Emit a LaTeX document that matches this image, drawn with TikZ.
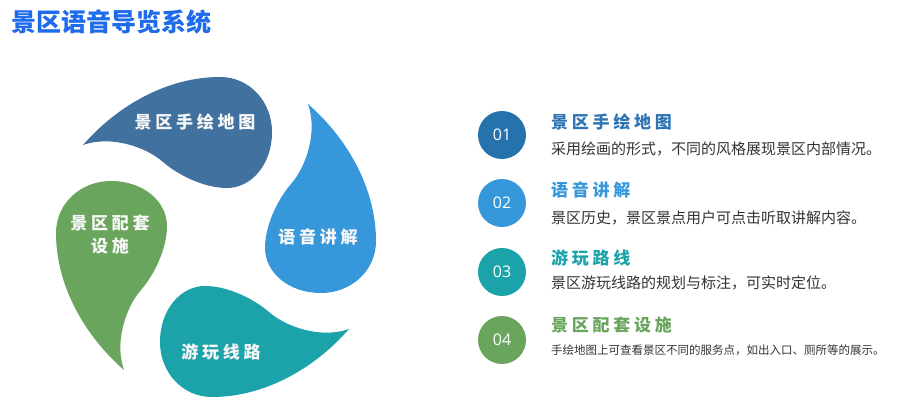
\documentclass[tikz,border=0pt]{standalone}
\usepackage{fontspec}
\setmainfont{Open Sans}
\newfontfamily\cjk{Noto Sans CJK SC}
\newfontfamily\cjkwide[LetterSpace=22]{Noto Sans CJK SC}

\definecolor{titleblue}{HTML}{1E6BEB}
\definecolor{mapblue}{HTML}{41719F}
\definecolor{voiceblue}{HTML}{3698DA}
\definecolor{routeteal}{HTML}{1CA3AA}
\definecolor{sitegreen}{HTML}{6AA55E}
\definecolor{numblue}{HTML}{2572AD}
\definecolor{headblue}{HTML}{2E74B5}
\definecolor{desctext}{HTML}{333333}

\tikzset{
  droplabel/.style={text=white!94!gray, align=center,
    font=\cjkwide\bfseries\fontsize{17}{23}\selectfont},
  numdot/.style={circle, minimum size=48pt, inner sep=0pt, text=white,
    font=\fontsize{16}{16}\selectfont},
  headline/.style={anchor=west, inner sep=0pt,
    font=\cjkwide\bfseries\fontsize{17}{17}\selectfont},
  descline/.style={anchor=west, inner sep=0pt, text=desctext,
    font=\cjk\fontsize{15}{15}\selectfont}
}

\begin{document}
\begin{tikzpicture}[x=1pt, y=1pt]
  \useasboundingbox (0,0) rectangle (900,409);

  \node[anchor=west, inner sep=0pt, text=titleblue,
    font=\cjk\bfseries\fontsize{25}{25}\selectfont] (title) at (11,387) {景区语音导览系统};

  % four drops turning round the centre
  \begin{scope}[shift={(216,172)}]
    \foreach \ang/\col in {0/mapblue, -90/voiceblue, 180/routeteal, 90/sitegreen}
      \fill[\col, rotate=\ang]
        (-133,92) .. controls (-100,130) and (-50,160) .. (4,160)
        .. controls (34,160) and (56,135) .. (56,105)
        .. controls (56,72) and (35,49) .. (11,49)
        .. controls (-12,49) and (-38,62) .. (-53,75)
        .. controls (-70,90) and (-105,102) .. (-133,92) -- cycle;
  \end{scope}

  \node[droplabel] (map) at (195,287) {景区手绘地图};
  \node[droplabel] (voice) at (318,172) {语音讲解};
  \node[droplabel] (route) at (221,57) {游玩线路};
  \node[droplabel] (site) at (110,174) {景区配套\\设施};

  % list on the right
  \node[numdot, fill=numblue] (n1) at (502,274) {01};
  \node[numdot, fill=voiceblue] (n2) at (502,206) {02};
  \node[numdot, fill=routeteal] (n3) at (502,137) {03};
  \node[numdot, fill=sitegreen] (n4) at (502,69) {04};

  \node[headline, text=headblue] (h1) at (551,287) {景区手绘地图};
  \node[headline, text=voiceblue] (h2) at (551,219) {语音讲解};
  \node[headline, text=routeteal] (h3) at (551,151) {游玩路线};
  \node[headline, text=sitegreen] (h4) at (551,84) {景区配套设施};

  \node[descline] (d1) at (551,260) {采用绘画的形式，不同的风格展现景区内部情况。};
  \node[descline] (d2) at (551,191) {景区历史，景区景点用户可点击听取讲解内容。};
  \node[descline] (d3) at (551,126) {景区游玩线路的规划与标注，可实时定位。};
  \node[descline, font=\cjk\fontsize{11.5}{11.5}\selectfont] (d4) at (551,59) {手绘地图上可查看景区不同的服务点，如出入口、厕所等的展示。};
\end{tikzpicture}
\end{document}
